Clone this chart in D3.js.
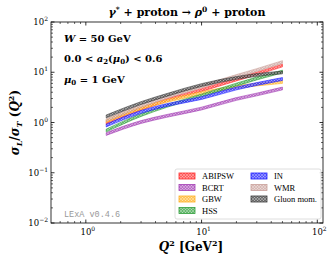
<!DOCTYPE html>
<html>
<head>
<meta charset="utf-8">
<script src="https://cdn.jsdelivr.net/npm/d3@7"></script>
<style>
  body { margin: 0; background: #fff; }
  text { font-family: "DejaVu Serif", "Liberation Serif", serif; }
</style>
</head>
<body>
<svg id="chart" width="329" height="260"></svg>
<script>
// Q^2 grid (GeV^2)
var q2 = [1.5, 3, 5, 10, 20, 30, 50];

// models, legend order
var models = ["ABIPSW", "BCRT", "GBW", "HSS", "IN", "WMR", "Gluon mom."];
var colors = ["#ff2a2a", "#a23cb4", "#ffb020", "#2e9e3a", "#1f1fff", "#c9a09a", "#3a3a3a"];

// band edges for each model (sigma_L / sigma_T)
var lowVals = [
  [0.917, 1.75, 2.63, 4.16, 6.73, 8.86, 12.8],
  [0.554, 0.958, 1.27, 1.78, 2.76, 3.39, 4.46],
  [1.00, 1.82, 2.52, 3.62, 4.78, 5.35, 6.01],
  [0.651, 1.32, 2.00, 3.24, 5.35, 7.05, 9.72],
  [0.818, 1.52, 2.09, 2.88, 4.46, 5.48, 6.89],
  [1.05, 2.00, 3.02, 4.88, 7.91, 10.4, 15.0],
  [1.24, 2.29, 3.31, 5.23, 7.22, 8.28, 9.29]
];
var highVals = [
  [1.04, 1.98, 2.98, 4.72, 7.64, 10.05, 14.5],
  [0.628, 1.09, 1.44, 2.02, 3.13, 3.84, 5.06],
  [1.14, 2.07, 2.85, 4.11, 5.42, 6.07, 6.82],
  [0.738, 1.50, 2.27, 3.67, 6.07, 8.00, 11.0],
  [0.928, 1.73, 2.37, 3.27, 5.06, 6.22, 7.82],
  [1.19, 2.27, 3.43, 5.54, 8.97, 11.8, 17.0],
  [1.41, 2.60, 3.76, 5.93, 8.19, 9.39, 10.5]
];

var xTicks = [1, 10, 100];
var yTicks = [0.01, 0.1, 1, 10, 100];

var svg = d3.select("#chart"),
    margin = {top: 22, right: 6, bottom: 37, left: 51},
    width = 329 - margin.left - margin.right,
    height = 260 - margin.top - margin.bottom,
    g = svg.append("g").attr("transform", "translate(" + margin.left + "," + margin.top + ")");

var x = d3.scaleLog().domain([0.5, 112]).range([0, width]),
    y = d3.scaleLog().domain([0.01, 100]).range([height, 0]);

// hatch patterns
var defs = svg.append("defs");
colors.forEach(function(c, i) {
  var p = defs.append("pattern")
      .attr("id", "hatch" + i)
      .attr("patternUnits", "userSpaceOnUse")
      .attr("width", 3).attr("height", 3);
  p.append("rect").attr("width", 3).attr("height", 3).attr("fill", c).attr("fill-opacity", 0.75);
  p.append("path").attr("d", "M0,0L3,3M3,0L0,3")
      .attr("stroke", "#fff").attr("stroke-width", 0.5).attr("stroke-opacity", 0.6);
});

var area = d3.area()
    .curve(d3.curveMonotoneX)
    .x(function(d) { return x(d.q); })
    .y0(function(d) { return y(d.lo); })
    .y1(function(d) { return y(d.hi); });

models.forEach(function(m, i) {
  var pts = q2.map(function(q, j) { return {q: q, lo: lowVals[i][j], hi: highVals[i][j]}; });
  g.append("path")
      .attr("d", area(pts))
      .attr("fill", "url(#hatch" + i + ")")
      .attr("stroke", colors[i])
      .attr("stroke-opacity", 0.85)
      .attr("stroke-width", 0.7);
});

// frame
g.append("rect").attr("width", width).attr("height", height)
    .attr("fill", "none").attr("stroke", "#000").attr("stroke-width", 0.8);

// ticks, inward on all four sides
function minorList(lo, hi) {
  var out = [];
  for (var e = Math.floor(Math.log10(lo)); e <= Math.ceil(Math.log10(hi)); e++) {
    for (var k = 2; k < 10; k++) {
      var v = k * Math.pow(10, e);
      if (v > lo && v < hi) out.push(v);
    }
  }
  return out;
}
var xMinor = minorList(0.5, 112), yMinor = minorList(0.01, 100);

function drawTicks(vals, len, sw) {
  vals.x.forEach(function(v) {
    var px = x(v);
    if (px < 0 || px > width) return;
    g.append("line").attr("x1", px).attr("x2", px).attr("y1", height).attr("y2", height - len).attr("stroke", "#000").attr("stroke-width", sw);
    g.append("line").attr("x1", px).attr("x2", px).attr("y1", 0).attr("y2", len).attr("stroke", "#000").attr("stroke-width", sw);
  });
  vals.y.forEach(function(v) {
    var py = y(v);
    g.append("line").attr("y1", py).attr("y2", py).attr("x1", 0).attr("x2", len).attr("stroke", "#000").attr("stroke-width", sw);
    g.append("line").attr("y1", py).attr("y2", py).attr("x1", width).attr("x2", width - len).attr("stroke", "#000").attr("stroke-width", sw);
  });
}
drawTicks({x: xTicks, y: yTicks}, 3.5, 0.8);
drawTicks({x: xMinor, y: yMinor}, 2, 0.6);

function powLabel(sel, e) {
  sel.append("tspan").text("10");
  sel.append("tspan").attr("dy", -4).attr("font-size", 6).text(e);
}
xTicks.forEach(function(v) {
  var t = g.append("text").attr("x", x(v) + 2).attr("y", height + 12)
      .attr("text-anchor", "middle").attr("font-size", 8.5);
  powLabel(t, Math.round(Math.log10(v)));
});
yTicks.forEach(function(v) {
  var e = Math.round(Math.log10(v));
  var t = g.append("text").attr("x", -3).attr("y", y(v) + 3)
      .attr("text-anchor", "end").attr("font-size", 8.5);
  powLabel(t, e < 0 ? "\u2212" + (-e) : e);
});

// title
var title = svg.append("text").attr("x", 187).attr("y", 16).attr("text-anchor", "middle")
    .attr("font-size", 11).attr("font-weight", "bold");
title.append("tspan").attr("font-style", "italic").text("\u03b3");
title.append("tspan").attr("dy", -4).attr("font-size", 7.5).text("*");
title.append("tspan").attr("dy", 4).text(" + proton \u2192 ");
title.append("tspan").attr("font-style", "italic").text("\u03c1");
title.append("tspan").attr("dy", -4).attr("font-size", 7.5).text("0");
title.append("tspan").attr("dy", 4).text(" + proton");

// annotations
var a1 = g.append("text").attr("x", 13).attr("y", 20).attr("font-size", 10).attr("font-weight", "bold");
a1.append("tspan").attr("font-style", "italic").text("W");
a1.append("tspan").text(" = 50 GeV");
var a2 = g.append("text").attr("x", 13).attr("y", 40).attr("font-size", 10).attr("font-weight", "bold");
a2.append("tspan").text("0.0 < ");
a2.append("tspan").attr("font-style", "italic").text("a");
a2.append("tspan").attr("dy", 2).attr("font-size", 7).text("2");
a2.append("tspan").attr("dy", -2).text("(");
a2.append("tspan").attr("font-style", "italic").text("\u03bc");
a2.append("tspan").attr("dy", 2).attr("font-size", 7).text("0");
a2.append("tspan").attr("dy", -2).text(") < 0.6");
var a3 = g.append("text").attr("x", 13).attr("y", 61).attr("font-size", 10).attr("font-weight", "bold");
a3.append("tspan").attr("font-style", "italic").text("\u03bc");
a3.append("tspan").attr("dy", 2).attr("font-size", 7).text("0");
a3.append("tspan").attr("dy", -2).text(" = 1 GeV");

g.append("text").attr("x", 13).attr("y", height - 6)
    .style("font-family", "'Liberation Mono', 'DejaVu Sans Mono', monospace")
    .attr("font-size", 8.5).attr("fill", "#999").text("LExA v0.4.6");

// axis labels
var xl = svg.append("text").attr("x", margin.left + width / 2 + 4).attr("y", 251)
    .attr("text-anchor", "middle").attr("font-size", 12).attr("font-weight", "bold");
xl.append("tspan").attr("font-style", "italic").text("Q");
xl.append("tspan").attr("dy", -5).attr("font-size", 8).text("2");
xl.append("tspan").attr("dy", 5).text(" [GeV");
xl.append("tspan").attr("dy", -5).attr("font-size", 8).text("2");
xl.append("tspan").attr("dy", 5).text("]");

var yl = svg.append("text").attr("transform", "translate(19," + (margin.top + height / 2) + ") rotate(-90)")
    .attr("text-anchor", "middle").attr("font-size", 12).attr("font-weight", "bold");
yl.append("tspan").attr("font-style", "italic").text("\u03c3");
yl.append("tspan").attr("dy", 3).attr("font-size", 8).attr("font-style", "italic").text("L");
yl.append("tspan").attr("dy", -3).text("/");
yl.append("tspan").attr("font-style", "italic").text("\u03c3");
yl.append("tspan").attr("dy", 3).attr("font-size", 8).attr("font-style", "italic").text("T");
yl.append("tspan").attr("dy", -3).text(" (");
yl.append("tspan").attr("font-style", "italic").text("Q");
yl.append("tspan").attr("dy", -5).attr("font-size", 8).text("2");
yl.append("tspan").attr("dy", 5).text(")");

// legend
var leg = svg.append("g").attr("transform", "translate(175,169)");
leg.append("rect").attr("width", 146).attr("height", 50).attr("rx", 2)
    .attr("fill", "#fff").attr("fill-opacity", 0.85).attr("stroke", "#d6d6d6").attr("stroke-width", 0.8);
models.forEach(function(m, i) {
  var col = i < 4 ? 0 : 1, row = i < 4 ? i : i - 4;
  var lx = 4 + col * 72, ly = 4 + row * 11.5;
  leg.append("rect").attr("x", lx).attr("y", ly).attr("width", 16).attr("height", 6)
      .attr("fill", "url(#hatch" + i + ")").attr("stroke", colors[i]).attr("stroke-width", 0.8);
  leg.append("text").attr("x", lx + 23).attr("y", ly + 6)
      .style("font-family", "'Liberation Serif', serif").attr("font-size", 8.5).text(m);
});
</script>
</body>
</html>
